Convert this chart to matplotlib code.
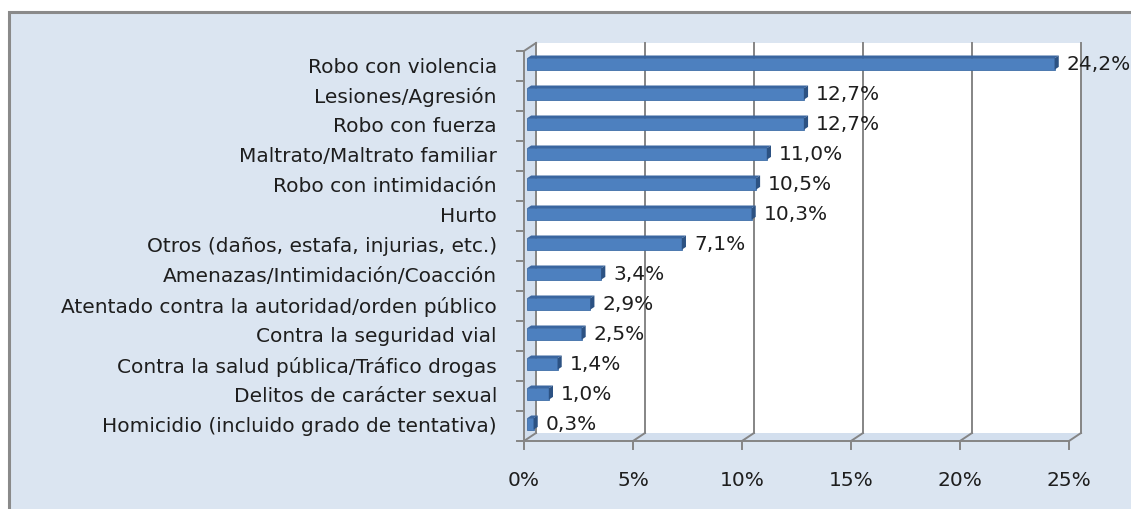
import matplotlib
matplotlib.use("Agg")
import matplotlib.pyplot as plt
from matplotlib.patches import Rectangle, Polygon
import numpy as np

categories = [
    "Robo con violencia",
    "Lesiones/Agresión",
    "Robo con fuerza",
    "Maltrato/Maltrato familiar",
    "Robo con intimidación",
    "Hurto",
    "Otros (daños, estafa, injurias, etc.)",
    "Amenazas/Intimidación/Coacción",
    "Atentado contra la autoridad/orden público",
    "Contra la seguridad vial",
    "Contra la salud pública/Tráfico drogas",
    "Delitos de carácter sexual",
    "Homicidio (incluido grado de tentativa)",
]
values = [24.2, 12.7, 12.7, 11.0, 10.5, 10.3, 7.1, 3.4, 2.9, 2.5, 1.4, 1.0, 0.3]
value_labels = ["24,2%", "12,7%", "12,7%", "11,0%", "10,5%", "10,3%", "7,1%",
                "3,4%", "2,9%", "2,5%", "1,4%", "1,0%", "0,3%"]
xticks = [0, 5, 10, 15, 20, 25]
xtick_labels = ["0%", "5%", "10%", "15%", "20%", "25%"]

W, H = 1131, 510
fig = plt.figure(figsize=(W / 100, H / 100), dpi=100)
fig.patch.set_facecolor("white")

BG = "#dbe5f1"
FLOOR = "#d3dfee"
GRID = "#858585"
TXT = "#1e1e1e"
FONT = "DejaVu Sans"
FS = 14.5

# chart frame
frame = Rectangle((9 / W, -0.1), 1.2, (H - 13) / H + 0.1, transform=fig.transFigure,
                  facecolor=BG, edgecolor="#8a8a8a", lw=2.2, zorder=-10)
fig.patches.append(frame)

# axes = front plane
x0, x1 = 524, 1069
ytop, ybot = 52, 442
ax = fig.add_axes([x0 / W, (H - ybot) / H, (x1 - x0) / W, (ybot - ytop) / H])
ax.set_zorder(5)
ax.set_facecolor("none")
for s in ax.spines.values():
    s.set_visible(False)
n = len(categories)
ax.set_xlim(0, 25)
ax.set_ylim(-0.5, n - 0.5)
ax.set_xticks([])
ax.set_yticks([])

px_x = (x1 - x0) / 25.0
px_y = (ybot - ytop) / n
DX = 12 / px_x
DY = 8 / px_y

ylo, yhi = -0.5, n - 0.5

# side wall and floor
ax.add_patch(Polygon([(0, ylo), (0, yhi), (DX, yhi + DY), (DX, ylo + DY)],
                     closed=True, facecolor=FLOOR, edgecolor="none", clip_on=False, zorder=1))
ax.add_patch(Polygon([(0, ylo), (25, ylo), (25 + DX, ylo + DY), (DX, ylo + DY)],
                     closed=True, facecolor=FLOOR, edgecolor="none", clip_on=False, zorder=1))
# back wall
ax.add_patch(Rectangle((DX, ylo + DY), 25, n, facecolor="white", edgecolor="none",
                       clip_on=False, zorder=1))

lw = 1.4
# gridlines on back wall and floor
for t in xticks:
    ax.plot([t + DX, t + DX], [ylo + DY, yhi + DY], color=GRID, lw=lw, clip_on=False, zorder=2)
    ax.plot([t, t + DX], [ylo, ylo + DY], color=GRID, lw=lw, clip_on=False, zorder=2)
    ax.plot([t, t], [ylo, ylo - 8 / px_y], color=GRID, lw=lw, clip_on=False, zorder=2)
# top-left diagonal
ax.plot([0, DX], [yhi, yhi + DY], color=GRID, lw=lw, clip_on=False, zorder=2)
# front axes
ax.plot([0, 0], [ylo, yhi], color=GRID, lw=lw, clip_on=False, zorder=2)
ax.plot([0, 25], [ylo, ylo], color=GRID, lw=lw, clip_on=False, zorder=2)
for k in range(n + 1):
    yy = ylo + k
    ax.plot([0, -7 / px_x], [yy, yy], color=GRID, lw=lw, clip_on=False, zorder=2)

# bars
FRONT = "#4d80bf"
TOP = "#3a66a0"
SIDE = "#2c5283"
h = 0.38
d0, d1 = 0.25, 0.6
for i, v in enumerate(values):
    y = n - 1 - i
    fx = d0 * DX
    fy = y - h / 2 + d0 * DY
    ax.add_patch(Rectangle((fx, fy), v, h, facecolor=FRONT, edgecolor="#3f6ea8",
                           lw=0.6, clip_on=False, zorder=3))
    ax.add_patch(Polygon([(fx, fy + h), (fx + v, fy + h),
                          (v + d1 * DX, y + h / 2 + d1 * DY), (d1 * DX, y + h / 2 + d1 * DY)],
                         closed=True, facecolor=TOP, edgecolor="none", clip_on=False, zorder=3))
    ax.add_patch(Polygon([(fx + v, fy), (fx + v, fy + h),
                          (v + d1 * DX, y + h / 2 + d1 * DY), (v + d1 * DX, y - h / 2 + d1 * DY)],
                         closed=True, facecolor=SIDE, edgecolor="none", clip_on=False, zorder=3))
    ax.text(v + d1 * DX + 8 / px_x, y + 0.3 * DY, value_labels[i], ha="left", va="center",
            fontsize=FS, color=TXT, family=FONT, clip_on=False, zorder=4)
    ax.text(-27 / px_x, y, categories[i], ha="right", va="center",
            fontsize=FS, color=TXT, family=FONT, clip_on=False, zorder=4)

for t, lab in zip(xticks, xtick_labels):
    ax.text(t, ylo - 39 / px_y, lab, ha="center", va="center", fontsize=FS,
            color=TXT, family=FONT, clip_on=False, zorder=4)

fig.savefig("out.png", dpi=100, facecolor="white")
